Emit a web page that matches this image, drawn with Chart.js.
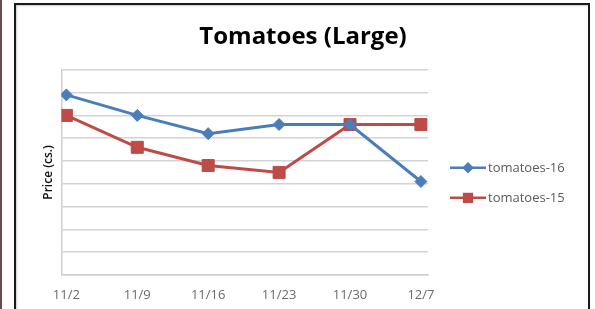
<!DOCTYPE html>
<html>
<head>
<meta charset="utf-8">
<title>Tomatoes (Large)</title>
<script src="https://cdn.jsdelivr.net/npm/chart.js@4.4.1/dist/chart.umd.min.js"></script>
<style>
  html, body { margin: 0; padding: 0; background: #fff; }
  .page { position: relative; width: 595px; height: 309px; overflow: hidden; background: #fff; }
  .edge { position: absolute; left: 0; top: 0; bottom: 0; width: 2px; background: #6e4c4c; }
  .frame { position: absolute; left: 14px; top: 3px; width: 572px; height: 330px; border: 2px solid #1a1a1a; box-shadow: inset 1px 1px 2px rgba(0,0,0,0.2); }
  #chart { position: absolute; left: 0; top: 0; }
</style>
</head>
<body>
<div class="page">
  <div class="edge"></div>
  <div class="frame"></div>
  <canvas id="chart" width="595" height="309"></canvas>
</div>
<script>
const dates = ['11/2', '11/9', '11/16', '11/23', '11/30', '12/7'];
const tomatoes16 = [79, 70, 62, 66, 66, 41];
const tomatoes15 = [70, 56, 48, 45, 66, 66];
const seriesNames = ['tomatoes-16', 'tomatoes-15'];

const BLUE = '#4a7ebb';
const RED = '#be4b48';
const FONT = '"Open Sans", Lato, sans-serif';

function toPoints(values) {
  return values.map(function(v, i) { return { x: i, y: v }; });
}

// excel style legend: short line with the marker in the middle
function drawLegend(chart, box) {
  const ctx = chart.ctx;
  ctx.save();
  chart.data.datasets.forEach(function(ds, i) {
    const y = box.top + 98 + i * 30;
    const x0 = box.left + 22;
    const x1 = box.left + 58;
    ctx.strokeStyle = ds.borderColor;
    ctx.lineWidth = 2.5;
    ctx.beginPath();
    ctx.moveTo(x0, y);
    ctx.lineTo(x1, y);
    ctx.stroke();
    ctx.fillStyle = ds.borderColor;
    Chart.helpers.drawPoint(ctx, {
      pointStyle: ds.pointStyle,
      radius: ds.pointStyle === 'rect' ? 5.5 : 4,
      borderWidth: 1
    }, (x0 + x1) / 2, y);
    ctx.fillStyle = '#5a5a5a';
    ctx.font = '13px ' + FONT;
    ctx.textBaseline = 'middle';
    ctx.textAlign = 'left';
    ctx.fillText(ds.label, x1 + 2, y);
  });
  ctx.restore();
}

const lineLegend = {
  id: 'lineLegend',
  start(chart) {
    const box = {
      position: 'right',
      weight: 10,
      fullSize: false,
      options: {},
      isHorizontal() { return false; },
      update(maxWidth, maxHeight) {
        this.width = 163;
        this.height = maxHeight;
      },
      draw() { drawLegend(chart, this); }
    };
    chart.$lineLegend = box;
    Chart.layouts.addBox(chart, box);
  },
  stop(chart) {
    Chart.layouts.removeBox(chart, chart.$lineLegend);
  }
};

document.addEventListener('DOMContentLoaded', function() {
  Chart.defaults.font.family = FONT;

  new Chart(document.getElementById('chart'), {
    type: 'line',
    data: {
      datasets: [
        {
          label: seriesNames[0],
          data: toPoints(tomatoes16),
          borderColor: BLUE,
          backgroundColor: BLUE,
          borderWidth: 3,
          pointStyle: 'rectRot',
          pointRadius: 6,
          pointHoverRadius: 6,
          pointBorderWidth: 1
        },
        {
          label: seriesNames[1],
          data: toPoints(tomatoes15),
          borderColor: RED,
          backgroundColor: RED,
          borderWidth: 3,
          pointStyle: 'rect',
          pointRadius: 8.5,
          pointHoverRadius: 8.5,
          pointBorderWidth: 1
        }
      ]
    },
    plugins: [lineLegend],
    options: {
      responsive: false,
      animation: false,
      layout: { padding: { left: 15, right: 4, top: 0, bottom: 6 } },
      plugins: {
        legend: { display: false },
        tooltip: { enabled: false },
        title: {
          display: true,
          text: 'Tomatoes (Large)',
          color: '#000',
          font: { size: 24, weight: 'bold' },
          padding: { top: 23, bottom: 18 }
        }
      },
      scales: {
        x: {
          type: 'linear',
          min: -0.07,
          max: 5.1,
          afterBuildTicks: function(scale) {
            scale.ticks = dates.map(function(d, i) { return { value: i }; });
          },
          afterFit: function(scale) {
            scale.height = 28;
          },
          ticks: {
            color: '#6a6a6a',
            font: { size: 13 },
            padding: 12,
            maxRotation: 0,
            callback: function(value) { return dates[value]; }
          },
          grid: { display: false, drawTicks: false },
          border: { display: true, color: '#cfcfcf', width: 1.5 }
        },
        y: {
          min: 0,
          max: 90,
          ticks: { display: false, stepSize: 10 },
          grid: { color: '#d3d3d3', lineWidth: 1.5, drawTicks: false },
          border: { display: true, color: '#cfcfcf', width: 1.5 },
          title: {
            display: true,
            text: 'Price (cs.)',
            color: '#111',
            font: { size: 12, weight: '600' },
            padding: { top: 26, bottom: 6 }
          }
        }
      }
    }
  });
});
</script>
</body>
</html>
